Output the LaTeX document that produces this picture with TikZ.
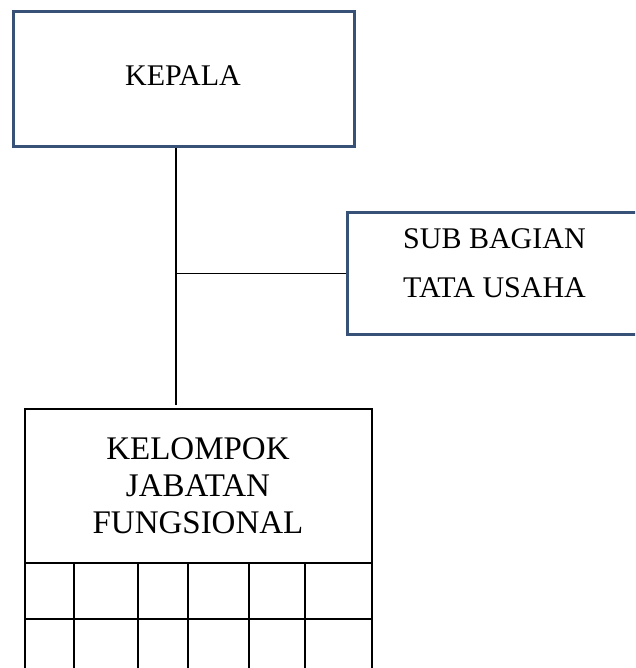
\documentclass[tikz,border=0pt]{standalone}
\usepackage{fontspec}
\setmainfont{Liberation Serif}
\definecolor{boxblue}{RGB}{55,82,118}
\tikzset{
  bluebox/.style={draw=boxblue, line width=2.6pt, rectangle, inner sep=0pt, anchor=north west},
  gridbox/.style={draw=black, line width=1.5pt, rectangle, inner sep=0pt, anchor=north west},
  conn/.style={draw=black, line width=1.6pt},
  gridline/.style={draw=black, line width=1.5pt},
  lbl/.style={inner sep=0pt, anchor=base, align=center}
}
\begin{document}
\begin{tikzpicture}[x=1pt,y=-1pt]
\useasboundingbox (0,0) rectangle (635,668);
\clip (0,0) rectangle (635,668);
% boxes
\node[bluebox, minimum width=341pt, minimum height=135pt] (kepala) at (12,10) {};
\node[bluebox, minimum width=340pt, minimum height=122pt] (sub) at (346,211) {};
\node[gridbox, minimum width=347pt, minimum height=300pt] (kjf) at (24,408) {};
% texts (anchor base = baseline of the last line)
\node[lbl, font=\fontsize{30}{36}\selectfont] (tkepala) at (183,86) {KEPALA};
\node[lbl, font=\fontsize{30}{49}\selectfont] (tsub) at (494.5,297) {SUB BAGIAN\\TATA USAHA};
\node[lbl, font=\fontsize{33}{37}\selectfont] (tkjf) at (198,533) {KELOMPOK\\JABATAN\\FUNGSIONAL};
% grid inside the functional group box
\draw[gridline] (kjf.west |- 0,563) -- (kjf.east |- 0,563);
\draw[gridline] (kjf.west |- 0,619) -- (kjf.east |- 0,619);
\foreach \gx in {74,138,188,249,305}{
  \draw[gridline] (\gx,563) -- (\gx,700);
}
% connectors
\coordinate (vend) at (176,405);
\draw[conn] (vend |- kepala.south) -- (vend);
\draw[conn] (vend |- sub.west) -- (sub.west);
\end{tikzpicture}
\end{document}
